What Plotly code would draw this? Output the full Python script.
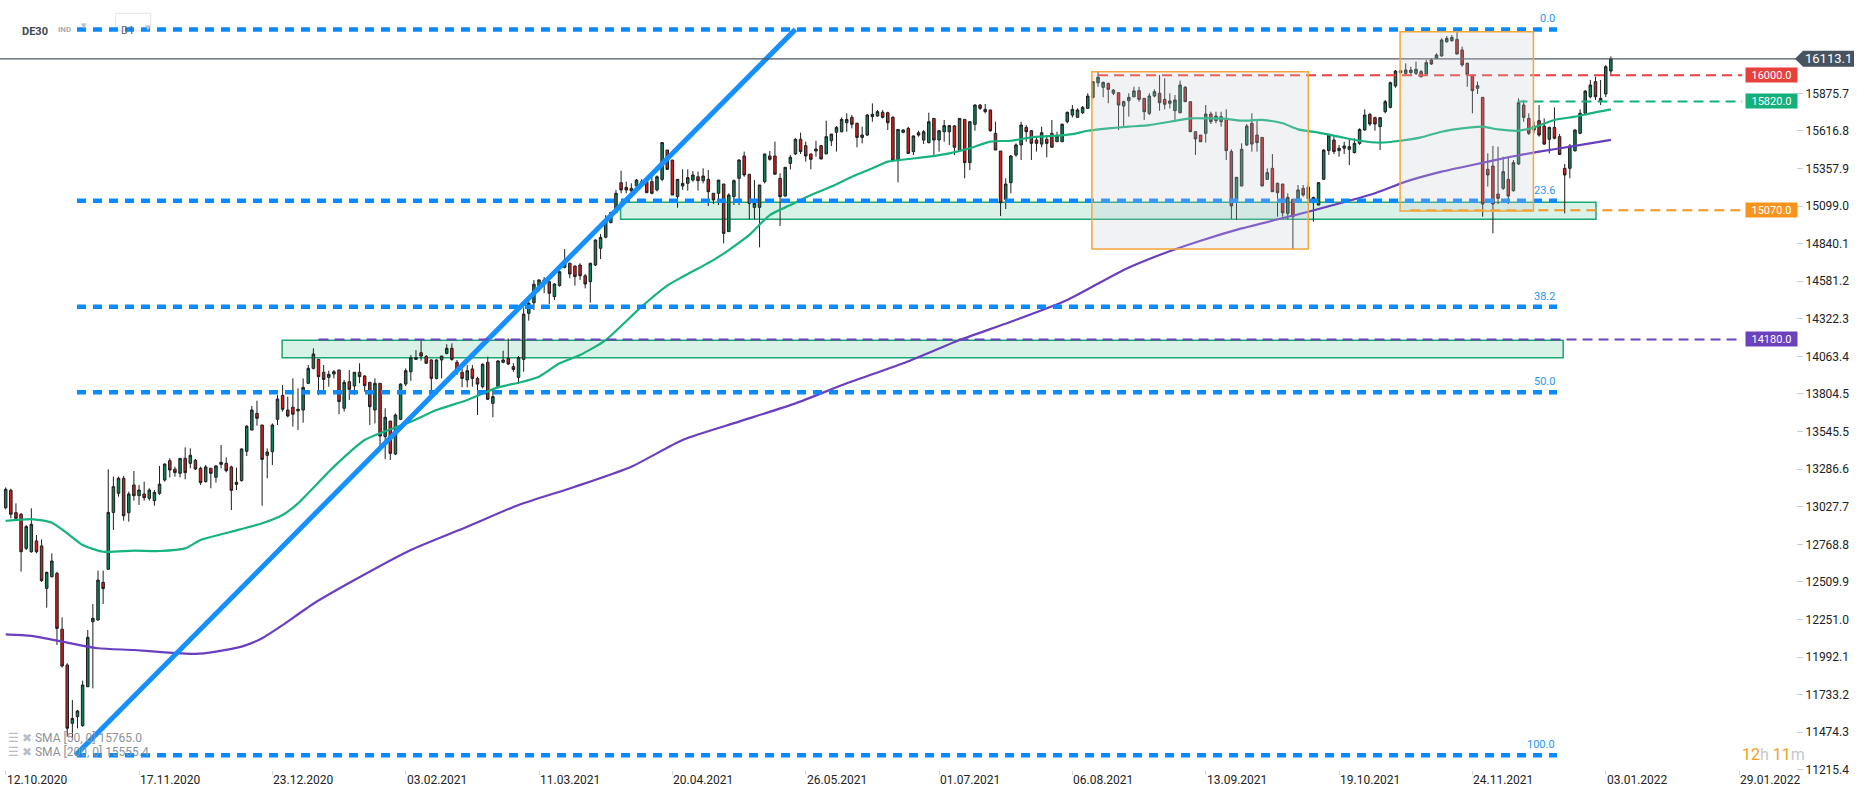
import plotly.graph_objs as go

# DE30 daily candles, bar index 0 = 12.10.2020
candle_open = [
    13021, 13141, 12987, 12976, 12741, 12718, 12792, 12758, 12466, 12546,
    12569, 12184, 11938, 11536, 11582, 11520, 11788, 12236, 12248, 12507,
    12597, 12989, 13120, 13224, 12987, 13178, 13104, 13116, 13086, 13070,
    13120, 13212, 13345, 13286, 13258, 13361, 13327, 13348, 13293, 13201,
    13293, 13231, 13320, 13327, 13302, 13182, 13208, 13410, 13556, 13671,
    13591, 13382, 13407, 13630, 13795, 13694, 13713, 13688, 13694, 13878,
    13981, 14043, 13954, 13919, 13942, 13970, 13706, 13889, 13860, 13954,
    13928, 13885, 13694, 13878, 13511, 13618, 13391, 13630, 13873, 13958,
    14043, 14089, 14062, 14039, 13912, 14039, 14084, 14119, 14023, 13954,
    13901, 13977, 13912, 13855, 14023, 13740, 13855, 14023, 14050, 13993,
    13919, 14043, 14360, 14433, 14544, 14590, 14578, 14475, 14551, 14677,
    14705, 14686, 14693, 14619, 14578, 14693, 14808, 14884, 14985, 15054,
    15260, 15228, 15221, 15237, 15251, 15267, 15267, 15210, 15283, 15485,
    15416, 15164, 15237, 15256, 15278, 15301, 15274, 15283, 15187, 15187,
    15251, 14923, 15164, 15290, 15444, 15318, 15090, 15090, 15267, 15444,
    15444, 15290, 15168, 15393, 15458, 15559, 15515, 15458, 15478, 15515,
    15458, 15549, 15607, 15611, 15673, 15710, 15669, 15572, 15588, 15715,
    15719, 15745, 15742, 15710, 15416, 15607, 15634, 15474, 15604, 15554,
    15536, 15703, 15554, 15611, 15611, 15651, 15481, 15696, 15398, 15662,
    15795, 15765, 15761, 15600, 15478, 15145, 15260, 15451, 15520, 15641,
    15618, 15554, 15526, 15559, 15600, 15542, 15542, 15680, 15726, 15710,
    15742, 15772, 15848, 15949, 15917, 15944, 15876, 15880, 15788, 15825,
    15852, 15894, 15841, 15738, 15857, 15876, 15834, 15807, 15756, 15742,
    15917, 15818, 15611, 15588, 15600, 15733, 15687, 15680, 15696, 15474,
    15129, 15237, 15520, 15669, 15588, 15572, 15283, 15359, 15256, 15251,
    15049, 15145, 15141, 15221, 15150, 15122, 15106, 15283, 15481, 15554,
    15481, 15497, 15490, 15467, 15531, 15623, 15731, 15708, 15646, 15749,
    15779, 15926, 16031, 16013, 16018, 16013, 16025, 16009, 16105, 16117,
    16133, 16231, 16238, 16247, 16174, 16082, 16002, 15910, 15848, 15352,
    15375, 15182, 15221, 15283, 15205, 15389, 15795, 15703, 15623, 15687,
    15650, 15559, 15641, 15577, 15359, 15359, 15480, 15600, 15738, 15852,
    15956, 15818, 15871, 16029,
]
candle_high = [
    13161, 13152, 13051, 12985, 12902, 13017, 12833, 12803, 12580, 12707,
    12580, 12266, 11950, 11697, 11628, 11830, 12179, 12358, 12588, 12588,
    13286, 13235, 13235, 13240, 13132, 13274, 13178, 13201, 13155, 13143,
    13309, 13327, 13361, 13304, 13361, 13437, 13430, 13357, 13304, 13315,
    13293, 13315, 13453, 13368, 13311, 13297, 13430, 13591, 13722, 13758,
    13591, 13430, 13602, 13797, 13867, 13786, 13912, 13843, 13912, 14004,
    14119, 14043, 14004, 13965, 13970, 13970, 13901, 13970, 13954, 14016,
    13935, 13885, 13912, 13878, 13706, 13618, 13671, 13878, 13981, 14073,
    14107, 14172, 14073, 14043, 14043, 14066, 14147, 14153, 14039, 13993,
    14004, 14004, 13924, 14016, 14062, 13843, 14039, 14103, 14188, 14016,
    14066, 14401, 14452, 14590, 14594, 14610, 14601, 14567, 14654, 14803,
    14709, 14688, 14705, 14631, 14709, 14870, 14907, 15037, 15060, 15210,
    15343, 15267, 15256, 15285, 15283, 15278, 15302, 15310, 15540, 15485,
    15416, 15283, 15352, 15352, 15340, 15336, 15359, 15347, 15187, 15278,
    15251, 15187, 15283, 15421, 15474, 15318, 15278, 15244, 15458, 15478,
    15543, 15324, 15366, 15451, 15566, 15605, 15543, 15458, 15549, 15520,
    15687, 15595, 15650, 15710, 15738, 15726, 15673, 15646, 15733, 15806,
    15761, 15761, 15749, 15719, 15627, 15627, 15646, 15586, 15618, 15623,
    15742, 15703, 15623, 15692, 15657, 15657, 15703, 15696, 15680, 15800,
    15802, 15802, 15761, 15680, 15478, 15290, 15451, 15531, 15680, 15657,
    15623, 15577, 15646, 15588, 15692, 15611, 15669, 15749, 15795, 15772,
    15788, 15876, 15960, 16025, 15956, 15949, 15903, 15880, 15825, 15876,
    15921, 15921, 15841, 15876, 15903, 16002, 15979, 15876, 15864, 15963,
    15926, 15818, 15611, 15588, 15795, 15749, 15749, 15749, 15765, 15490,
    15297, 15531, 15664, 15738, 15696, 15572, 15359, 15457, 15260, 15251,
    15187, 15145, 15244, 15244, 15260, 15164, 15264, 15490, 15595, 15581,
    15520, 15542, 15566, 15566, 15634, 15765, 15738, 15715, 15710, 15830,
    15956, 16036, 16031, 16082, 16059, 16094, 16036, 16105, 16117, 16151,
    16255, 16270, 16277, 16300, 16197, 16087, 16002, 15956, 15848, 15462,
    15513, 15508, 15439, 15439, 15416, 15841, 15830, 15738, 15680, 15795,
    15703, 15646, 15779, 15595, 15389, 15527, 15627, 15765, 15898, 15967,
    15990, 15967, 16070, 16130,
]
candle_low = [
    13010, 12948, 12940, 12581, 12730, 12711, 12707, 12510, 12333, 12540,
    12076, 11920, 11444, 11432, 11502, 11513, 11788, 11777, 12243, 12358,
    12597, 12868, 13097, 12932, 12925, 13070, 13040, 13070, 13070, 13035,
    13109, 13201, 13230, 13235, 13230, 13217, 13293, 13281, 13178, 13194,
    13155, 13194, 13293, 13265, 13005, 13143, 13201, 13377, 13556, 13586,
    13035, 13224, 13315, 13591, 13683, 13644, 13580, 13557, 13607, 13873,
    13974, 13798, 13832, 13855, 13912, 13665, 13683, 13763, 13798, 13878,
    13821, 13591, 13602, 13419, 13355, 13350, 13384, 13625, 13859, 13896,
    14039, 14034, 14016, 13832, 13905, 13912, 14078, 14034, 13935, 13850,
    13850, 13855, 13660, 13843, 13763, 13644, 13843, 14016, 14004, 13958,
    13873, 13958, 14310, 14383, 14510, 14500, 14424, 14452, 14544, 14670,
    14601, 14551, 14590, 14532, 14433, 14686, 14734, 14877, 14980, 15049,
    15187, 15187, 15175, 15233, 15233, 15191, 15180, 15200, 15270, 15347,
    15175, 15088, 15210, 15205, 15267, 15205, 15256, 15099, 15113, 15106,
    14842, 14923, 15106, 15106, 15301, 15008, 15008, 14815, 15255, 15412,
    15318, 14962, 15164, 15352, 15451, 15458, 15405, 15352, 15439, 15423,
    15458, 15513, 15474, 15607, 15611, 15634, 15503, 15531, 15581, 15680,
    15715, 15703, 15623, 15405, 15262, 15600, 15458, 15451, 15577, 15526,
    15531, 15451, 15474, 15542, 15520, 15451, 15474, 15290, 15347, 15618,
    15761, 15738, 15611, 15485, 15030, 15079, 15187, 15439, 15416, 15542,
    15416, 15474, 15504, 15435, 15504, 15542, 15542, 15669, 15710, 15710,
    15733, 15772, 15840, 15921, 15848, 15807, 15864, 15623, 15651, 15715,
    15848, 15818, 15692, 15726, 15848, 15756, 15765, 15772, 15692, 15738,
    15818, 15611, 15451, 15542, 15536, 15664, 15669, 15646, 15416, 15010,
    15003, 15237, 15513, 15474, 15474, 15237, 15278, 15198, 15026, 15026,
    15007, 14801, 15130, 15164, 15110, 14991, 15106, 15283, 15451, 15458,
    15439, 15458, 15382, 15462, 15520, 15618, 15650, 15618, 15485, 15738,
    15772, 15914, 16013, 16002, 16002, 16002, 15986, 16002, 16071, 16110,
    16128, 16224, 16231, 16146, 16059, 15921, 15738, 15871, 15026, 15233,
    14911, 15113, 15210, 15113, 15198, 15382, 15680, 15588, 15600, 15577,
    15520, 15462, 15559, 15451, 15049, 15290, 15474, 15595, 15733, 15841,
    15830, 15795, 15850, 16000,
]
candle_close = [
    13148, 12976, 12948, 12718, 12891, 12907, 12718, 12519, 12576, 12654,
    12190, 11931, 11502, 11570, 11621, 11800, 12128, 12259, 12523, 12464,
    12989, 13166, 13224, 12966, 13116, 13104, 13143, 13090, 13143, 13127,
    13184, 13322, 13281, 13263, 13361, 13263, 13382, 13288, 13194, 13302,
    13258, 13309, 13334, 13276, 13141, 13196, 13426, 13582, 13694, 13637,
    13354, 13405, 13591, 13770, 13699, 13653, 13665, 13699, 13850, 13981,
    14080, 13924, 13905, 13940, 13958, 13752, 13885, 13837, 13954, 13924,
    13862, 13717, 13878, 13515, 13644, 13396, 13660, 13873, 13965, 14054,
    14054, 14066, 14016, 13912, 14039, 14066, 14119, 14043, 13974, 13912,
    13965, 13912, 13873, 14009, 13768, 13786, 14032, 14039, 14011, 13974,
    14055, 14355, 14429, 14560, 14590, 14570, 14498, 14562, 14647, 14727,
    14631, 14613, 14619, 14562, 14705, 14865, 14883, 15003, 15054, 15187,
    15210, 15210, 15203, 15278, 15267, 15191, 15187, 15301, 15536, 15352,
    15175, 15283, 15255, 15295, 15313, 15274, 15306, 15198, 15141, 15278,
    14911, 15175, 15274, 15416, 15313, 15118, 15118, 15244, 15458, 15421,
    15318, 15164, 15366, 15435, 15559, 15474, 15444, 15421, 15492, 15423,
    15577, 15595, 15641, 15696, 15696, 15662, 15572, 15588, 15726, 15731,
    15749, 15710, 15673, 15416, 15627, 15623, 15462, 15582, 15588, 15611,
    15680, 15554, 15618, 15653, 15653, 15504, 15703, 15398, 15680, 15795,
    15772, 15749, 15618, 15485, 15122, 15251, 15444, 15520, 15657, 15611,
    15531, 15531, 15604, 15531, 15504, 15582, 15662, 15745, 15765, 15761,
    15779, 15857, 15956, 15986, 15951, 15903, 15898, 15795, 15818, 15848,
    15892, 15834, 15749, 15857, 15887, 15811, 15800, 15823, 15830, 15933,
    15818, 15611, 15561, 15542, 15733, 15680, 15719, 15715, 15481, 15100,
    15297, 15490, 15650, 15526, 15536, 15237, 15329, 15198, 15191, 15053,
    15159, 15026, 15210, 15175, 15230, 15158, 15260, 15485, 15588, 15474,
    15497, 15513, 15508, 15531, 15627, 15726, 15664, 15664, 15708, 15818,
    15949, 16029, 16018, 16036, 16036, 16041, 15990, 16087, 16078, 16140,
    16243, 16254, 16261, 16146, 16071, 16002, 15894, 15928, 15113, 15313,
    15113, 15152, 15336, 15168, 15398, 15811, 15710, 15600, 15650, 15588,
    15526, 15641, 15566, 15455, 15313, 15513, 15623, 15738, 15891, 15933,
    15852, 15841, 16059, 16113.1,
]

# moving averages (bar index, value)
sma50_x = [0, 5, 9, 12, 15, 19, 25, 30, 35, 38, 44, 50, 54, 57, 64, 70, 79, 84, 90, 96,
           100, 104, 108, 112, 117, 124, 129, 132, 138, 141, 145, 149, 153, 157, 161, 165,
           169, 172, 176, 180, 184, 188, 192, 196, 200, 204, 208, 211, 215, 219, 223, 227,
           231, 235, 237, 241, 245, 249, 252, 256, 260, 264, 268, 272, 276, 280, 284, 288,
           291, 295, 298, 302, 306, 309, 313]
sma50_y = [12930, 12943, 12918, 12845, 12764, 12718, 12725, 12723, 12741, 12799, 12856,
           12914, 12971, 13051, 13304, 13488, 13614, 13694, 13763, 13850, 13882, 13924,
           14016, 14073, 14176, 14406, 14551, 14612, 14727, 14796, 14900, 15037, 15106,
           15175, 15233, 15301, 15359, 15405, 15423, 15439, 15462, 15497, 15543, 15549,
           15572, 15582, 15595, 15618, 15634, 15646, 15657, 15680, 15703, 15703, 15703,
           15687, 15692, 15669, 15627, 15605, 15577, 15549, 15536, 15549, 15572, 15611,
           15634, 15646, 15627, 15618, 15641, 15692, 15715, 15738, 15765]
sma200_x = [0, 5, 12, 18, 25, 31, 37, 41, 46, 50, 54, 60, 68, 79, 90, 100, 111, 122, 132,
            143, 154, 164, 175, 186, 196, 207, 218, 225, 233, 241, 254, 267, 273, 280, 286,
            293, 299, 306, 313]
sma200_y = [12149, 12138, 12092, 12053, 12041, 12025, 12014, 12030, 12064, 12122, 12213,
            12360, 12523, 12730, 12890, 13040, 13166, 13304, 13488, 13614, 13740, 13878,
            14016, 14176, 14302, 14452, 14659, 14762, 14860, 14945, 15060, 15187, 15267,
            15336, 15382, 15435, 15474, 15513, 15555]

# axis ticks
date_tick_idx = [0, 26, 52, 78, 104, 130, 156, 182, 208, 234, 260, 286, 312, 338]
date_tick_text = ["12.10.2020", "17.11.2020", "23.12.2020", "03.02.2021", "11.03.2021",
                  "20.04.2021", "26.05.2021", "01.07.2021", "06.08.2021", "13.09.2021",
                  "19.10.2021", "24.11.2021", "03.01.2022", "29.01.2022"]
price_ticks = [11215.4, 11474.3, 11733.2, 11992.1, 12251.0, 12509.9, 12768.8, 13027.7,
               13286.6, 13545.5, 13804.5, 14063.4, 14322.3, 14581.2, 14840.1, 15099.0,
               15357.9, 15616.8, 15875.7]

# drawing tools
fib_levels = [16316, 15136, 14406, 13816, 11316]
fib_names = ["0.0", "23.6", "38.2", "50.0", "100.0"]
fib_start, fib_end = 13.9, 302.5
trend_x = [13.6, 154.0]
trend_y = [11316, 16316]
level_prices = [16000.0, 15820.0, 15070.0, 14180.0]
level_start = [213, 294.8, 273.9, 61]
level_colors = ["#e8413c", "#13b07a", "#f7941d", "#6c41bd"]
zones = [(119.9, 310.1, 15008, 15125), (53.9, 303.7, 14055, 14174)]
boxes = [(211.8, 254.0, 14803, 16025), (271.9, 297.9, 15065, 16300)]
last_price = 16113.1
sma50_last, sma200_last = 15765.0, 15555.4

idx = list(range(len(candle_close)))
font = "Roboto"

fig = go.Figure()

fig.add_trace(go.Candlestick(
    x=idx, open=candle_open, high=candle_high, low=candle_low, close=candle_close,
    increasing=dict(fillcolor="#0e8056", line=dict(color="#1e1e1e", width=1)),
    decreasing=dict(fillcolor="#d21d1d", line=dict(color="#1e1e1e", width=1)),
    whiskerwidth=0, showlegend=False, hoverinfo="skip"
))
fig.add_trace(go.Scatter(x=sma50_x, y=sma50_y, mode="lines", line=dict(color="#17b37e", width=2.2, shape="spline", smoothing=0.6),
                         showlegend=False, hoverinfo="skip"))
fig.add_trace(go.Scatter(x=sma200_x, y=sma200_y, mode="lines", line=dict(color="#6a3fbf", width=2.2, shape="spline", smoothing=0.6),
                         showlegend=False, hoverinfo="skip"))

shapes = []
# support zones
for x0, x1, y0, y1 in zones:
    shapes.append(dict(type="rect", xref="x", yref="y", x0=x0, x1=x1, y0=y0, y1=y1, layer="below",
                       fillcolor="rgba(30,180,120,0.17)", line=dict(color="#1ba672", width=1.5)))
# fibonacci levels
for lv in fib_levels:
    shapes.append(dict(type="line", xref="x", yref="y", x0=fib_start, x1=fib_end, y0=lv, y1=lv,
                       line=dict(color="#0a8aff", width=4.5, dash="9px,7px")))
# trend line
shapes.append(dict(type="line", xref="x", yref="y", x0=trend_x[0], x1=trend_x[1], y0=trend_y[0], y1=trend_y[1],
                   line=dict(color="#1690ff", width=5)))
# horizontal levels
for p, x0, c in zip(level_prices, level_start, level_colors):
    shapes.append(dict(type="line", xref="x", yref="y", x0=x0, x1=338.6, y0=p, y1=p,
                       line=dict(color=c, width=2, dash="10px,6px")))
# last price line
shapes.append(dict(type="line", xref="paper", yref="y", x0=0, x1=1, y0=last_price, y1=last_price,
                   line=dict(color="#4b5661", width=1.2)))
# grey boxes
for x0, x1, y0, y1 in boxes:
    shapes.append(dict(type="rect", xref="x", yref="y", x0=x0, x1=x1, y0=y0, y1=y1, layer="above",
                       fillcolor="rgba(200,205,212,0.25)", line=dict(color="#f5a53a", width=1.5)))
# price marker
shapes.append(dict(type="path", xref="paper", yref="y", xsizemode="pixel", ysizemode="pixel",
                   xanchor=1, yanchor=last_price, path="M -1,0 L 7,8 L 58,8 L 58,-8 L 7,-8 Z",
                   fillcolor="#47535e", line=dict(width=0)))
# D1 selector box
shapes.append(dict(type="rect", xref="paper", yref="paper", x0=115.7 / 1796, x1=150.7 / 1796,
                   y0=(770 - 30.7) / 770, y1=(770 - 13.3) / 770, fillcolor="white",
                   line=dict(color="#e1e4e7", width=1), layer="below"))

annotations = []
for lv, name in zip(fib_levels, fib_names):
    annotations.append(dict(x=fib_end - 0.1, y=lv, xref="x", yref="y", text=name, showarrow=False,
                            xanchor="right", yanchor="bottom", yshift=2,
                            font=dict(family=font, size=11, color="#2b95f5")))
for p, c in zip(level_prices, level_colors):
    annotations.append(dict(x=344.4, y=p, xref="x", yref="y", text=f"{p:.1f}", showarrow=False,
                            bgcolor=c, width=49, height=12, borderpad=1,
                            font=dict(family=font, size=11, color="white")))
annotations.append(dict(x=1, y=last_price, xref="paper", yref="y", xanchor="center", xshift=32.5,
                        text=f"{last_price:.1f}", showarrow=False,
                        font=dict(family=font, size=13, color="white")))
for i, t in zip(date_tick_idx, date_tick_text):
    annotations.append(dict(x=i, y=0, xref="x", yref="paper", text=t, showarrow=False,
                            xanchor="left", yanchor="top", yshift=-1, xshift=-1,
                            font=dict(family=font, size=12, color="#222")))
# header
annotations += [
    dict(x=20 / 1796, y=(770 - 23) / 770, xref="paper", yref="paper", text="<b>DE30</b>", showarrow=False,
         xanchor="left", font=dict(family=font, size=11, color="#3d4852")),
    dict(x=55.5 / 1796, y=(770 - 23) / 770, xref="paper", yref="paper", text="<b>IND</b>", showarrow=False,
         xanchor="left", font=dict(family=font, size=8, color="#a3adb5")),
    dict(x=79 / 1796, y=(770 - 20) / 770, xref="paper", yref="paper", text="▼", showarrow=False,
         font=dict(family="DejaVu Sans", size=7, color="#b8bfc5")),
    dict(x=119 / 1796, y=(770 - 22) / 770, xref="paper", yref="paper", text="D1", showarrow=False,
         xanchor="left", font=dict(family=font, size=11, color="#5d6873")),
    dict(x=143 / 1796, y=(770 - 22) / 770, xref="paper", yref="paper", text="▼", showarrow=False,
         font=dict(family="DejaVu Sans", size=7, color="#b8bfc5")),
]
# indicator legend
for txt, ypx in [(f"SMA [50, 0] {sma50_last:.1f}", 738), (f"SMA [200, 0] {sma200_last:.1f}", 752)]:
    annotations.append(dict(x=6 / 1796, y=(770 - ypx) / 770, xref="paper", yref="paper", showarrow=False,
                            xanchor="left", yanchor="middle",
                            text='<span style="color:#b8bec3">☰ ✖</span> ' + txt,
                            font=dict(family=font, size=12, color="#8a939b")))
# candle countdown
annotations.append(dict(x=1740 / 1796, y=(770 - 754) / 770, xref="paper", yref="paper", showarrow=False,
                        xanchor="left", yanchor="middle",
                        text='<span style="color:#f59e1b">12</span><span style="color:#c3c8cc">h</span> '
                             '<span style="color:#f59e1b">11</span><span style="color:#c3c8cc">m</span>',
                        font=dict(family=font, size=16)))

fig.update_layout(
    width=1866, height=795,
    margin=dict(l=0, r=70, t=0, b=25),
    paper_bgcolor="white", plot_bgcolor="white",
    showlegend=False,
    shapes=shapes, annotations=annotations,
    xaxis=dict(range=[-1.11, 349.1], rangeslider=dict(visible=False), showgrid=False, zeroline=False,
               showline=False, tickvals=date_tick_idx, ticks="outside", ticklen=4, tickcolor="#cfd4d8",
               showticklabels=False),
    yaxis=dict(range=[11214.5, 16518.4], side="right", showgrid=False, zeroline=False, showline=False,
               tickvals=price_ticks, ticktext=[f"{v:.1f}" for v in price_ticks], ticks="outside",
               ticklen=6, tickcolor="#c8cdd2", tickfont=dict(family=font, size=12, color="#222")),
)

# page default margin would push the figure off by 8px
fig.write_html("out.html", config={"displayModeBar": False},
               post_script="document.body.style.margin='0';document.body.style.overflow='hidden';")
